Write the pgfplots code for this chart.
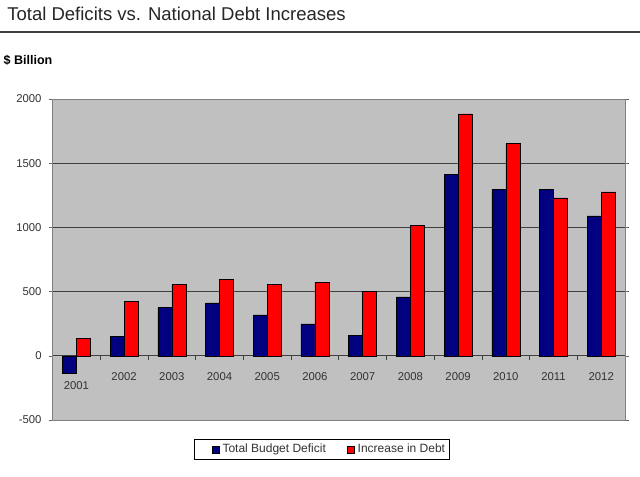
\documentclass[border=0pt]{standalone}
\usepackage{pgfplots}
\pgfplotsset{compat=1.18}
\usepackage{fontspec}
\setmainfont{Liberation Sans}
\definecolor{plotbg}{HTML}{C0C0C0}
\definecolor{navyb}{HTML}{000080}
\definecolor{redb}{HTML}{FF0000}
\definecolor{txt}{HTML}{333333}
\begin{document}
\begin{tikzpicture}[x=1pt,y=1pt]
\path[use as bounding box] (0,0) rectangle (480,357);
\node[anchor=base west, inner sep=0, font=\fontsize{13.9}{16}\selectfont, text=black!85] at (5.25,341.5) {Total Deficits vs. National Debt Increases};
\draw[line width=1.5pt, black!75] (0,333) -- (480,333);
\node[anchor=base west, inner sep=0, font=\fontsize{9.4}{11}\selectfont\bfseries] at (2.5,308.25) {\$ Billion};
\begin{axis}[
 at={(39.4pt,42pt)}, anchor=south west, scale only axis,
 width=429.4pt, height=240.75pt,
 xmin=-0.5, xmax=11.5, ymin=-500, ymax=2000,
 ybar=0pt, bar width=10.5pt,
 axis background/.style={fill=plotbg},
 axis line style={gray},
 ytick={-500,0,...,2000},
 ymajorgrids, grid style={black!75, line width=0.6pt},
 xtick={0,...,11},
 xticklabels={\raisebox{-7.2pt}{2001},2002,2003,2004,2005,2006,2007,2008,2009,2010,2011,2012},
 xtick style={draw=none},
 xticklabel style={anchor=base, yshift=32.8pt},
 yticklabel style={xshift=-1.7pt},
 ytick style={black!60},
 tick align=outside, major tick length=3pt,
 tick label style={font=\fontsize{8.5}{10}\selectfont, text=txt},
 /pgf/number format/assume math mode=true,
 /pgf/number format/set thousands separator={},
 legend columns=2,
 legend style={at={(0.470,-0.0916)}, anchor=center, draw=black, font=\fontsize{9}{11}\selectfont, text=txt,
   /tikz/every even column/.append style={column sep=1.6pt}, inner ysep=1.5pt, inner xsep=0.8pt},
 legend image code/.code={\path[draw=none,fill=none] (-12.5pt,0pt) -- (5.75pt,0pt);\draw[#1, draw=black, line width=0.3pt] (0pt,-2.6pt) rectangle (5pt,2.4pt);},
]
\addplot[fill=navyb, draw=black, line width=0.4pt] coordinates {
 (0,-133) (1,153) (2,375) (3,413) (4,318) (5,248) (6,161) (7,458) (8,1413) (9,1294) (10,1295) (11,1089)};
\addplot[fill=redb, draw=black, line width=0.4pt] coordinates {
 (0,133) (1,421) (2,555) (3,596) (4,554) (5,574) (6,501) (7,1017) (8,1885) (9,1652) (10,1229) (11,1276)};
\legend{Total Budget Deficit, Increase in Debt}
\pgfplotsinvokeforeach{0.5,1.5,2.5,3.5,4.5,5.5,6.5,7.5,8.5,9.5,10.5}{
 \draw[black!75, line width=0.5pt] (axis cs:#1,0) -- ++(0pt,-3pt);
}
\end{axis}
\end{tikzpicture}
\end{document}
